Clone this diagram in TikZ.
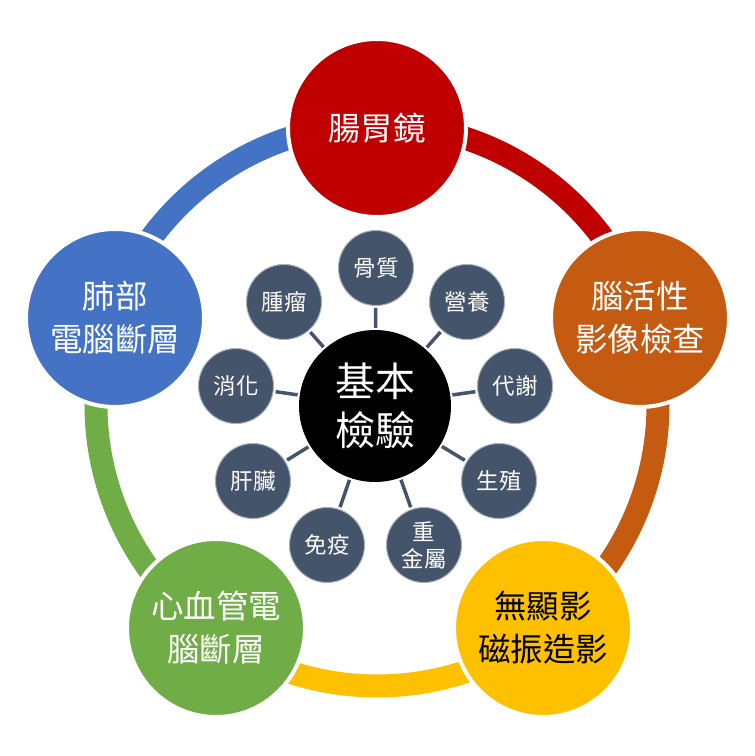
\documentclass[tikz,border=0pt]{standalone}
\usepackage{fontspec}
\setmainfont{Noto Sans CJK TC}
\definecolor{cred}{HTML}{C00000}
\definecolor{corange}{HTML}{C55A11}
\definecolor{cyellow}{HTML}{FFC000}
\definecolor{cgreen}{HTML}{70AD47}
\definecolor{cblue}{HTML}{4472C4}
\definecolor{slate}{HTML}{44546A}
\definecolor{slateedge}{HTML}{A7AFBA}
\begin{document}
\begin{tikzpicture}[x=1pt,y=1pt,
  big/.style={circle, draw=white, line width=4pt, minimum size=178pt, inner sep=0pt, align=center, font=\fontsize{32.5}{43}\selectfont, text=white},
  small/.style={circle, fill=slate, draw=slateedge, line width=1pt, minimum size=75pt, inner sep=0pt, align=center, text=white, font=\fontsize{22.5}{27}\selectfont},
  hubline/.style={draw=slate, line width=3.5pt},
  ringarc/.style={line width=23pt}]
\useasboundingbox[fill=white] (0,0) rectangle (755,756);
\coordinate (rc) at (377,351);
% outer ring arcs
\draw[ringarc, cred] (rc) ++(90:281pt) arc[start angle=90, end angle=18.3, radius=281pt];
\draw[ringarc, corange] (rc) ++(18.3:281pt) arc[start angle=18.3, end angle=-53.3, radius=281pt];
\draw[ringarc, cyellow] (rc) ++(-53.3:281pt) arc[start angle=-53.3, end angle=-126.2, radius=281pt];
\draw[ringarc, cgreen] (rc) ++(-126.2:281pt) arc[start angle=-126.2, end angle=-198.4, radius=281pt];
\draw[ringarc, cblue] (rc) ++(161.6:281pt) arc[start angle=161.6, end angle=90, radius=281pt];
% big circles
\node[big, fill=cred] (gastro) at (377,628) {腸胃鏡};
\node[big, fill=corange] (brain) at (640,438) {腦活性\\影像檢查};
\node[big, fill=cyellow, text=black] (mri) at (543,128) {無顯影\\磁振造影};
\node[big, fill=cgreen] (cardio) at (216,128) {心血管電\\腦斷層};
\node[big, fill=cblue] (lung) at (115,438) {肺部\\電腦斷層};
% hub
\node[circle, fill=black, minimum size=152pt, inner sep=0pt, align=center, text=white, font=\fontsize{40}{49}\selectfont] (hub) at (375,350) {基本\\檢驗};
% small circles
\node[small] (s1) at (376,488) {骨質};
\node[small] (s2) at (467,454) {營養};
\node[small] (s3) at (515,370) {代謝};
\node[small] (s4) at (499,275) {生殖};
\node[small] (s5) at (424,211) {重\\金屬};
\node[small] (s6) at (327,211) {免疫};
\node[small] (s7) at (253,275) {肝臟};
\node[small] (s8) at (236,370) {消化};
\node[small] (s9) at (284,454) {腫瘤};
\foreach \s in {s1,s2,s3,s4,s5,s6,s7,s8,s9}{
  \draw[hubline, shorten <=2pt, shorten >=2pt] (hub) -- (\s);
}
\end{tikzpicture}
\end{document}
